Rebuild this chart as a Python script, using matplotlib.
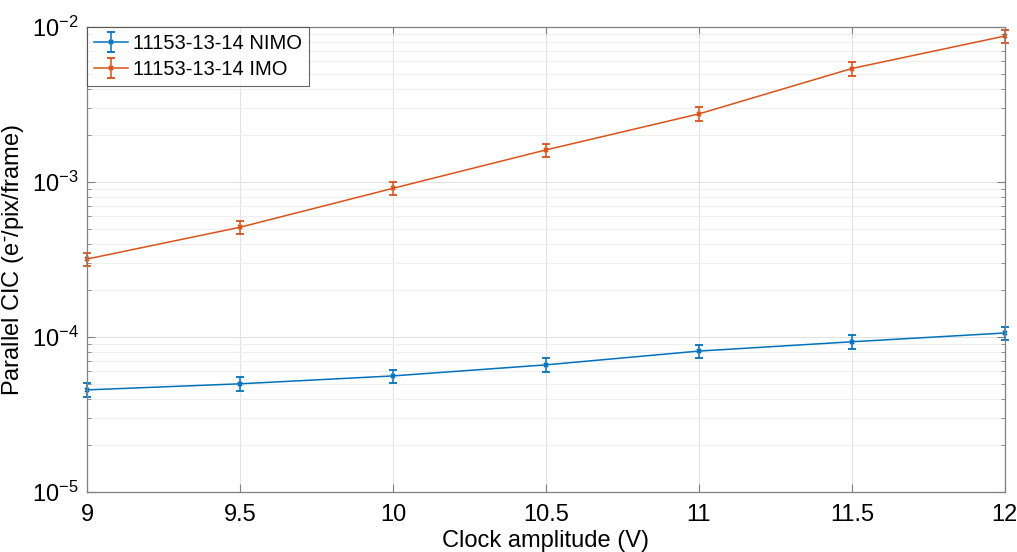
import matplotlib.pyplot as plt
from matplotlib.ticker import LogLocator, NullFormatter

plt.rcParams['font.family'] = ['Liberation Sans', 'DejaVu Sans']

amplitude = [9, 9.5, 10, 10.5, 11, 11.5, 12]
nimo = [4.55e-5, 4.98e-5, 5.6e-5, 6.6e-5, 8.1e-5, 9.3e-5, 1.06e-4]
imo = [3.18e-4, 5.1e-4, 9.1e-4, 1.61e-3, 2.75e-3, 5.4e-3, 8.75e-3]
rel_err = 0.1
labels = ['11153-13-14 NIMO', '11153-13-14 IMO']

fig = plt.figure(figsize=(10.17, 5.52), dpi=100)
ax = fig.add_axes([0.0855, 0.109, 0.9025, 0.842])

for vals, color, label in [(nimo, '#0072BD', labels[0]), (imo, '#D95319', labels[1])]:
    eb = ax.errorbar(amplitude, vals, yerr=[v * rel_err for v in vals], color=color,
                     marker='x', markersize=3.5, markeredgewidth=1.3, linewidth=1.1,
                     elinewidth=1.1, capsize=3, label=label)
    for art in eb.lines[0:1] + tuple(eb.lines[1]) + tuple(eb.lines[2]):
        art.set_clip_on(False)

ax.set_yscale('log')
ax.set_xlim(9, 12)
ax.set_ylim(1e-5, 1e-2)
ax.set_xticks([9, 9.5, 10, 10.5, 11, 11.5, 12])
ax.set_xticklabels(['9', '9.5', '10', '10.5', '11', '11.5', '12'])
ax.yaxis.set_major_locator(LogLocator(base=10, numticks=10))
ax.yaxis.set_minor_locator(LogLocator(base=10, subs=range(2, 10), numticks=20))
ax.yaxis.set_minor_formatter(NullFormatter())

ax.grid(True, which='major', color='#e3e3e3', linewidth=0.8)
ax.grid(True, which='minor', axis='y', color='#efefef', linewidth=0.8)
ax.set_axisbelow(True)

ax.tick_params(which='both', direction='in', top=True, right=True, colors='#808080',
               labelcolor='black', labelsize=17)
ax.tick_params(which='major', length=6)
ax.tick_params(which='minor', length=3)
ax.tick_params(axis='x', pad=9)
ax.tick_params(axis='y', pad=6)
for s in ax.spines.values():
    s.set_color('#808080')
    s.set_linewidth(0.9)

ax.set_xlabel('Clock amplitude (V)', fontsize=17, labelpad=3)
ax.set_ylabel('Parallel CIC (e$^{\\bar{\\ }}$/pix/frame)', fontsize=17, labelpad=4)

leg = ax.legend(loc='upper left', fontsize=14.5, frameon=True, fancybox=False,
                edgecolor='#404040', borderaxespad=0.0, handlelength=1.7,
                borderpad=0.35, labelspacing=0.35, handletextpad=0.25)
leg.get_frame().set_linewidth(0.8)

fig.savefig('out.png', dpi=100)
